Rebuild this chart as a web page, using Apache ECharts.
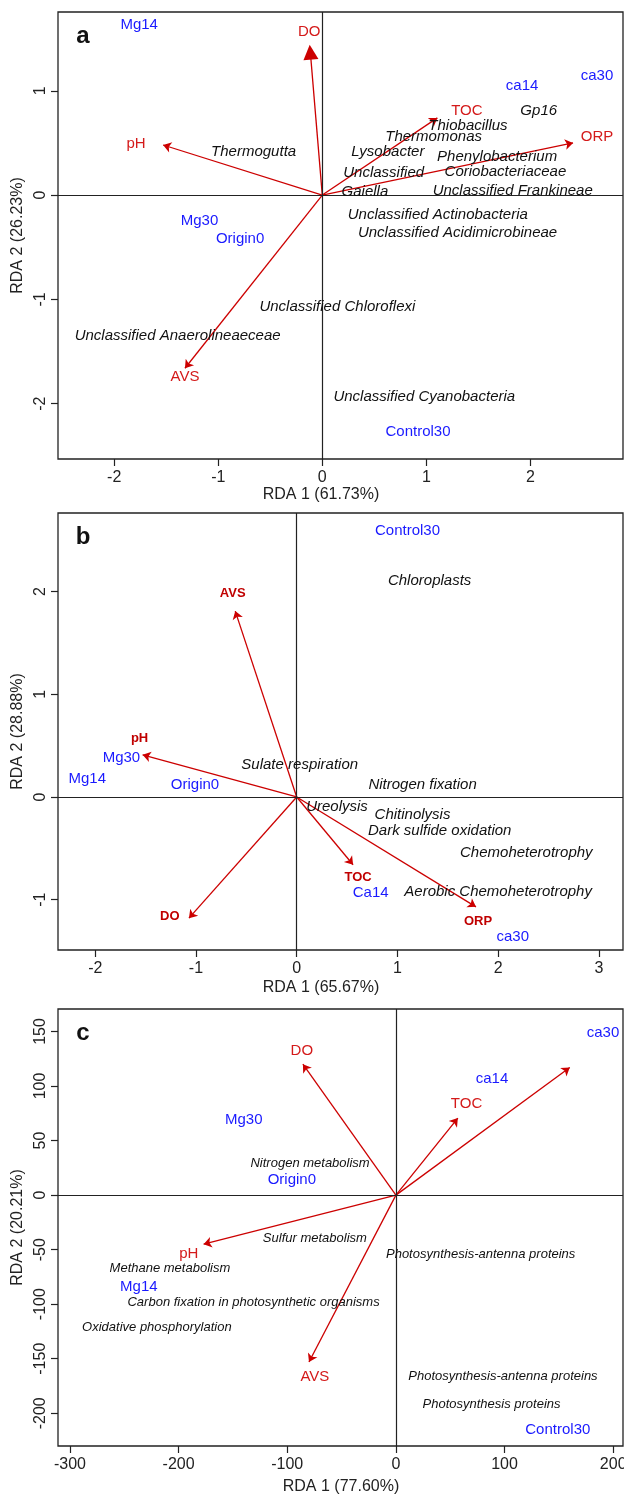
<!DOCTYPE html>
<html>
<head>
<meta charset="utf-8">
<title>RDA triplots</title>
<script src="https://cdn.jsdelivr.net/npm/echarts@6.0.0/dist/echarts.min.js"></script>
<style>
  html, body { margin: 0; padding: 0; background: #fff; }
  #main { width: 624px; height: 1496px; }
</style>
</head>
<body>
<div id="main"></div>
<script>
// ---- panel a (taxa) ----
const aXTicks = [-2, -1, 0, 1, 2];
const aYTicks = [-2, -1, 0, 1];
// [name, arrow tip x, arrow tip y, label x, label y]
const aEnv = [
  ['DO', -0.115, 1.37, -0.125, 1.56],
  ['pH', -1.53, 0.48, -1.79, 0.49],
  ['TOC', 1.106, 0.74, 1.39, 0.81],
  ['ORP', 2.41, 0.50, 2.64, 0.56],
  ['AVS', -1.32, -1.66, -1.32, -1.745]
];
const aSamples = [
  ['Mg14', -1.76, 1.63], ['ca14', 1.92, 1.045], ['ca30', 2.64, 1.14],
  ['Mg30', -1.18, -0.25], ['Origin0', -0.79, -0.42], ['Control30', 0.92, -2.27]
];
const aTaxa = [
  ['Thermogutta', -0.66, 0.41], ['Gp16', 2.08, 0.81], ['Thiobacillus', 1.40, 0.66],
  ['Thermomonas', 1.07, 0.555], ['Lysobacter', 0.63, 0.41], ['Phenylobacterium', 1.68, 0.365],
  ['Unclassified', 0.59, 0.21], ['Coriobacteriaceae', 1.76, 0.22], ['Gaiella', 0.41, 0.03],
  ['Unclassified Frankineae', 1.83, 0.04], ['Unclassified Actinobacteria', 1.11, -0.19],
  ['Unclassified Acidimicrobineae', 1.30, -0.36], ['Unclassified Chloroflexi', 0.145, -1.07],
  ['Unclassified Anaerolineaeceae', -1.39, -1.35], ['Unclassified Cyanobacteria', 0.98, -1.93]
];

// ---- panel b (functions) ----
const bXTicks = [-2, -1, 0, 1, 2, 3];
const bYTicks = [-1, 0, 1, 2];
const bEnv = [
  ['AVS', -0.61, 1.81, -0.635, 1.98],
  ['pH', -1.53, 0.41, -1.56, 0.57],
  ['DO', -1.07, -1.18, -1.26, -1.16],
  ['TOC', 0.56, -0.66, 0.61, -0.78],
  ['ORP', 1.78, -1.07, 1.80, -1.21]
];
const bSamples = [
  ['Control30', 1.10, 2.59], ['Mg30', -1.74, 0.38], ['Mg14', -2.08, 0.175],
  ['Origin0', -1.01, 0.12], ['Ca14', 0.735, -0.935], ['ca30', 2.145, -1.36]
];
const bFunctions = [
  ['Chloroplasts', 1.32, 2.10], ['Sulate respiration', 0.03, 0.31], ['Nitrogen fixation', 1.25, 0.12],
  ['Ureolysis', 0.40, -0.10], ['Chitinolysis', 1.15, -0.175], ['Dark sulfide oxidation', 1.42, -0.33],
  ['Chemoheterotrophy', 2.28, -0.545], ['Aerobic Chemoheterotrophy', 2.0, -0.925]
];

// ---- panel c (pathways) ----
const cXTicks = [-300, -200, -100, 0, 100, 200];
const cYTicks = [-200, -150, -100, -50, 0, 50, 100, 150];
const cEnv = [
  ['DO', -85.6, 120, -86.6, 132],
  ['TOC', 57, 70.6, 65, 83.5],
  ['', 160, 117, 160, 117],
  ['pH', -177, -45, -190.6, -54],
  ['AVS', -80, -153, -74.6, -167]
];
const cSamples = [
  ['ca30', 190.6, 148.6], ['ca14', 88.4, 106.4], ['Mg30', -140, 68.8],
  ['Origin0', -95.8, 13.8], ['Mg14', -236.6, -84.4], ['Control30', 149, -215.6]
];
const cPathways = [
  ['Nitrogen metabolism', -79, 29.4], ['Sulfur metabolism', -74.6, -39.4],
  ['Methane metabolism', -208, -67], ['Carbon fixation in photosynthetic organisms', -131, -98],
  ['Oxidative phosphorylation', -220, -121], ['Photosynthesis-antenna proteins', 78, -54],
  ['Photosynthesis-antenna proteins', 98.5, -166], ['Photosynthesis proteins', 88, -192]
];

const BLUE = '#1a1aff';
const RED = '#d41a1a';
const ARROW = '#cc0000';
const FONT = 'Liberation Sans';

const panels = [
  { letter: 'a', top: 12, height: 447, x: [-2.54, 2.89], y: [-2.53, 1.755], xt: aXTicks, yt: aYTicks,
    env: aEnv, samples: aSamples, sp: aTaxa, spSize: 15, envStyle: { color: RED, fontSize: 15 },
    xName: 'RDA 1 (61.73%)', xNameX: 321, xNameY: 495, yName: 'RDA 2 (26.23%)', bigHead: 'DO' },
  { letter: 'b', top: 513, height: 437, x: [-2.37, 3.24], y: [-1.49, 2.765], xt: bXTicks, yt: bYTicks,
    env: bEnv, samples: bSamples, sp: bFunctions, spSize: 15, envStyle: { color: '#c00000', fontSize: 13, fontWeight: 'bold' },
    xName: 'RDA 1 (65.67%)', xNameX: 321, xNameY: 988, yName: 'RDA 2 (28.88%)' },
  { letter: 'c', top: 1009, height: 437, x: [-311, 209], y: [-230, 170.6], xt: cXTicks, yt: cYTicks,
    env: cEnv, samples: cSamples, sp: cPathways, spSize: 13, envStyle: { color: RED, fontSize: 15 },
    xName: 'RDA 1 (77.60%)', xNameX: 341, xNameY: 1487, yName: 'RDA 2 (20.21%)' }
];

const grid = [], xAxis = [], yAxis = [], series = [], graphic = [];

function textSeries(i, list, style) {
  return {
    type: 'scatter', xAxisIndex: i, yAxisIndex: i, symbolSize: 0, silent: true, z: 5,
    itemStyle: { opacity: 1 },
    data: list.map(d => [d[1], d[2], d[0]]),
    label: Object.assign({
      show: true, position: 'inside', align: 'center', verticalAlign: 'middle', opacity: 1,
      fontFamily: FONT, formatter: p => p.data[2]
    }, style)
  };
}

panels.forEach((p, i) => {
  grid.push({ left: 58, width: 565, top: p.top, height: p.height, show: true,
    outerBoundsMode: 'none', containLabel: false,
    borderColor: '#222', borderWidth: 1.3, backgroundColor: 'transparent' });

  xAxis.push({
    type: 'value', gridIndex: i, min: p.x[0], max: p.x[1], position: 'bottom',
    axisLine: { show: false, onZero: false }, splitLine: { show: false },
    axisTick: { show: true, length: 7, customValues: p.xt, lineStyle: { color: '#222', width: 1.2 } },
    axisLabel: { customValues: p.xt, margin: 11, color: '#222', fontSize: 16, fontFamily: FONT }
  });
  yAxis.push({
    type: 'value', gridIndex: i, min: p.y[0], max: p.y[1], position: 'left',
    axisLine: { show: false, onZero: false }, splitLine: { show: false },
    axisTick: { show: true, length: 7, customValues: p.yt, lineStyle: { color: '#222', width: 1.2 } },
    axisLabel: { customValues: p.yt, margin: 9, rotate: 90, color: '#222', fontSize: 16, fontFamily: FONT }
  });

  // zero lines through the origin
  series.push({
    type: 'scatter', xAxisIndex: i, yAxisIndex: i, data: [], silent: true,
    markLine: { silent: true, symbol: 'none', label: { show: false }, animation: false,
      lineStyle: { color: '#222', type: 'solid', width: 1.2, opacity: 1 },
      data: [{ xAxis: 0 }, { yAxis: 0 }] }
  });

  // environmental arrows
  const small = p.env.filter(e => e[0] !== p.bigHead);
  const big = p.env.filter(e => e[0] === p.bigHead);
  series.push({
    type: 'lines', coordinateSystem: 'cartesian2d', xAxisIndex: i, yAxisIndex: i, z: 4,
    symbol: ['none', 'arrow'], symbolSize: 8, silent: true,
    lineStyle: { color: ARROW, width: 1.3, opacity: 1 },
    data: small.map(e => ({ coords: [[0, 0], [e[1], e[2]]] }))
  });
  if (big.length) {
    series.push({
      type: 'lines', coordinateSystem: 'cartesian2d', xAxisIndex: i, yAxisIndex: i, z: 4,
      symbol: ['none', 'triangle'], symbolSize: [12, 15], silent: true,
      lineStyle: { color: ARROW, width: 1.3, opacity: 1 },
      data: big.map(e => ({ coords: [[0, 0], [e[1], e[2]]] }))
    });
  }

  series.push(textSeries(i, p.env.filter(e => e[0]).map(e => [e[0], e[3], e[4]]), p.envStyle));
  series.push(textSeries(i, p.samples, { color: BLUE, fontSize: 15 }));
  series.push(textSeries(i, p.sp, { color: '#111', fontSize: p.spSize, fontStyle: 'italic' }));

  graphic.push(
    { type: 'text', x: 83, y: p.top + 24, style: { text: p.letter, font: 'bold 24px "Liberation Sans"',
      fill: '#111', align: 'center', verticalAlign: 'middle' } },
    { type: 'text', x: p.xNameX, y: p.xNameY, style: { text: p.xName, font: '16px "Liberation Sans"',
      fill: '#222', align: 'center', verticalAlign: 'middle' } },
    { type: 'text', x: 18, y: p.top + p.height / 2, rotation: Math.PI / 2,
      style: { text: p.yName, font: '16px "Liberation Sans"', fill: '#222', align: 'center', verticalAlign: 'middle' } }
  );
});

const chart = echarts.init(document.getElementById('main'));
chart.setOption({ animation: false, grid, xAxis, yAxis, series, graphic });
</script>
</body>
</html>
